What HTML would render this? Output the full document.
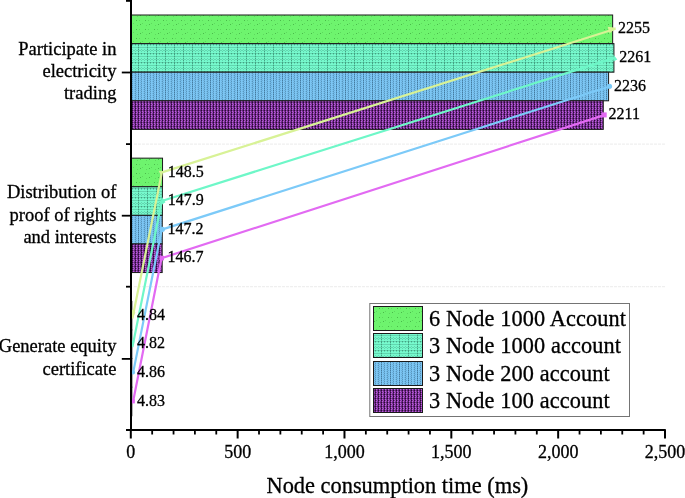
<!DOCTYPE html>
<html><head><meta charset="utf-8"><style>
html,body{margin:0;padding:0;background:#fff;}
svg{display:block;will-change:transform;}
text{font-family:"Liberation Serif",serif;fill:#000;stroke:#000;stroke-width:0.3px;}
</style></head><body>
<svg width="685" height="498" viewBox="0 0 685 498">
<defs>
<pattern id="pG" width="9" height="9" patternUnits="userSpaceOnUse">
<rect width="9" height="9" fill="#6ef46e"/>
<rect x="1" y="2" width="1" height="1" fill="#2e8a2e" opacity="0.55"/>
<rect x="5" y="6" width="1" height="1" fill="#2e8a2e" opacity="0.55"/>
<rect x="4" y="2" width="1" height="1" fill="#2e8a2e" opacity="0.25"/>
<rect x="7" y="5" width="1" height="1" fill="#2e8a2e" opacity="0.25"/>
<rect x="2" y="7" width="1" height="1" fill="#2e8a2e" opacity="0.25"/>
</pattern>
<pattern id="pT" width="9" height="9" patternUnits="userSpaceOnUse" x="0" y="0">
<rect width="9" height="9" fill="#76f9cd"/>
<path d="M3 0h1v1h-1zM3 2h1v1h-1zM3 4h1v1h-1zM3 6h1v1h-1zM0 8h1v1h-1zM3 8h1v1h-1zM6 8h1v1h-1z" fill="#1a5a45" opacity="0.55"/>
<path d="M3 1h1v1h-1zM3 3h1v1h-1zM3 5h1v1h-1zM3 7h1v1h-1zM1 8h2v1h-2zM4 8h2v1h-2zM7 8h2v1h-2z" fill="#1a5a45" opacity="0.22"/>
<path d="M0 0h1v1h-1zM0 2h1v1h-1zM0 4h1v1h-1zM0 6h1v1h-1zM6 0h1v1h-1zM6 2h1v1h-1zM6 4h1v1h-1zM6 6h1v1h-1zM1 5h2v1h-2zM4 5h2v1h-2zM7 5h2v1h-2zM1 2h2v1h-2zM4 2h2v1h-2zM7 2h2v1h-2z" fill="#1a5a45" opacity="0.22"/>
</pattern>
<pattern id="pB" width="9" height="2" patternUnits="userSpaceOnUse">
<rect width="9" height="2" fill="#7cc6f4"/>
<rect x="3" y="0" width="1" height="1" fill="#1e4a68" opacity="0.6"/>
<rect x="3" y="1" width="1" height="1" fill="#1e4a68" opacity="0.3"/>
<rect x="0" y="1" width="1" height="1" fill="#1e4a68" opacity="0.4"/>
<rect x="6" y="1" width="1" height="1" fill="#1e4a68" opacity="0.4"/>
<rect x="0" y="0" width="1" height="1" fill="#1e4a68" opacity="0.15"/>
<rect x="6" y="0" width="1" height="1" fill="#1e4a68" opacity="0.15"/>
<rect x="1" y="0" width="1" height="1" fill="#1e4a68" opacity="0.18"/>
<rect x="5" y="0" width="1" height="1" fill="#1e4a68" opacity="0.18"/>
<rect x="8" y="1" width="1" height="1" fill="#1e4a68" opacity="0.12"/>
</pattern>
<pattern id="pP" width="3" height="4" patternUnits="userSpaceOnUse">
<rect width="3" height="4" fill="#80369c"/>
<rect x="0" y="0" width="1" height="1" fill="#200428" opacity="0.9"/>
<rect x="0" y="1" width="1" height="1" fill="#200428" opacity="0.45"/>
<rect x="0" y="2" width="1" height="1" fill="#200428" opacity="0.9"/>
<rect x="0" y="3" width="1" height="1" fill="#200428" opacity="0.45"/>
<rect x="1" y="1" width="1" height="1" fill="#cc68ee" opacity="0.8"/>
<rect x="1" y="3" width="1" height="1" fill="#cc68ee" opacity="0.8"/>
<rect x="2" y="0" width="1" height="1" fill="#b858dc" opacity="0.5"/>
<rect x="2" y="2" width="1" height="1" fill="#200428" opacity="0.35"/>
</pattern>
</defs>

<line x1="134" y1="144.1" x2="665" y2="144.1" stroke="#efefef" stroke-width="1.2" stroke-dasharray="3,1"/>
<line x1="134" y1="286.7" x2="665" y2="286.7" stroke="#efefef" stroke-width="1.2" stroke-dasharray="3,1"/>
<rect x="130.80" y="15.00" width="481.85" height="28.60" fill="url(#pG)" stroke="#1a1a1a" stroke-width="1"/>
<rect x="130.80" y="43.60" width="483.13" height="28.60" fill="url(#pT)" stroke="#1a1a1a" stroke-width="1"/>
<rect x="130.80" y="72.20" width="477.79" height="28.60" fill="url(#pB)" stroke="#1a1a1a" stroke-width="1"/>
<rect x="130.80" y="100.80" width="472.45" height="28.60" fill="url(#pP)" stroke="#1a1a1a" stroke-width="1"/>
<rect x="130.80" y="158.15" width="31.73" height="28.60" fill="url(#pG)" stroke="#1a1a1a" stroke-width="1"/>
<rect x="130.80" y="186.75" width="31.60" height="28.60" fill="url(#pT)" stroke="#1a1a1a" stroke-width="1"/>
<rect x="130.80" y="215.35" width="31.45" height="28.60" fill="url(#pB)" stroke="#1a1a1a" stroke-width="1"/>
<rect x="130.80" y="243.95" width="31.35" height="28.60" fill="url(#pP)" stroke="#1a1a1a" stroke-width="1"/>
<rect x="130.80" y="301.35" width="1.03" height="28.60" fill="url(#pG)" stroke="#1a1a1a" stroke-width="1"/>
<rect x="130.80" y="329.95" width="1.03" height="28.60" fill="url(#pT)" stroke="#1a1a1a" stroke-width="1"/>
<rect x="130.80" y="358.55" width="1.04" height="28.60" fill="url(#pB)" stroke="#1a1a1a" stroke-width="1"/>
<rect x="130.80" y="387.15" width="1.03" height="28.60" fill="url(#pP)" stroke="#1a1a1a" stroke-width="1"/>
<polyline points="132.4,318.5 161.9,172.4 615.6,28.7" fill="none" stroke="#d8f296" stroke-width="2.2" stroke-linejoin="round"/>
<polygon points="616.2,27.7 609.7,33.5 607.6,26.8" fill="#d8f296"/>
<polygon points="158.6,170.8 163.5,170.9 161.0,175.4" fill="#d8f296"/>
<polygon points="131.2,308.7 135.4,312.2 132.4,319.1" fill="#d8f296"/>
<polyline points="132.4,347.1 161.8,201.0 614.9,57.9" fill="none" stroke="#6ef7c8" stroke-width="2.2" stroke-linejoin="round"/>
<polygon points="613.4,54.5 617.3,59.4 613.4,61.5" fill="#6ef7c8"/>
<polygon points="162.0,197.0 165.5,202.2 162.0,204.4" fill="#6ef7c8"/>
<polygon points="131.2,339.9 134.6,341.8 132.2,345.6" fill="#6ef7c8"/>
<polyline points="133.1,372.9 161.7,229.6 609.6,86.5" fill="none" stroke="#7ccaf8" stroke-width="2.2" stroke-linejoin="round"/>
<circle cx="609.5" cy="86.3" r="2.6" fill="#7ccaf8"/>
<circle cx="162.4" cy="229.3" r="2.6" fill="#7ccaf8"/>
<circle cx="133.1" cy="372.5" r="2.0" fill="#7ccaf8"/>
<polyline points="133.1,401.5 161.5,258.2 604.2,115.1" fill="none" stroke="#e26af2" stroke-width="2.2" stroke-linejoin="round"/>
<rect x="601.7" y="112.4" width="5" height="5" fill="#e26af2"/>
<rect x="159.4" y="255.8" width="4.6" height="4.6" fill="#e26af2"/>
<rect x="130.7" y="399.2" width="4.2" height="4.2" fill="#e26af2"/>
<text x="617.9" y="33.4" font-size="16">2255</text>
<text x="619.2" y="62.0" font-size="16">2261</text>
<text x="613.9" y="90.6" font-size="16">2236</text>
<text x="608.5" y="119.2" font-size="16">2211</text>
<text x="167.8" y="176.5" font-size="16">148.5</text>
<text x="167.7" y="205.1" font-size="16">147.9</text>
<text x="167.6" y="233.7" font-size="16">147.2</text>
<text x="167.4" y="262.4" font-size="16">146.7</text>
<text x="137.1" y="319.8" font-size="16">4.84</text>
<text x="137.1" y="348.4" font-size="16">4.82</text>
<text x="137.1" y="377.0" font-size="16">4.86</text>
<text x="137.1" y="405.6" font-size="16">4.83</text>
<line x1="131" y1="0" x2="131" y2="431" stroke="#000" stroke-width="2"/>
<line x1="126" y1="429.9" x2="665.8" y2="429.9" stroke="#000" stroke-width="2"/>
<line x1="126" y1="0.9" x2="131" y2="0.9" stroke="#000" stroke-width="1.8"/>
<line x1="126" y1="144.1" x2="131" y2="144.1" stroke="#000" stroke-width="1.8"/>
<line x1="126" y1="286.7" x2="131" y2="286.7" stroke="#000" stroke-width="1.8"/>
<line x1="121.8" y1="72.5" x2="131" y2="72.5" stroke="#000" stroke-width="1.8"/>
<line x1="121.8" y1="215.7" x2="131" y2="215.7" stroke="#000" stroke-width="1.8"/>
<line x1="121.8" y1="358.9" x2="131" y2="358.9" stroke="#000" stroke-width="1.8"/>
<line x1="130.80" y1="430" x2="130.80" y2="438.5" stroke="#000" stroke-width="2"/>
<line x1="152.17" y1="430" x2="152.17" y2="434.5" stroke="#000" stroke-width="1.8"/>
<line x1="173.54" y1="430" x2="173.54" y2="434.5" stroke="#000" stroke-width="1.8"/>
<line x1="194.90" y1="430" x2="194.90" y2="434.5" stroke="#000" stroke-width="1.8"/>
<line x1="216.27" y1="430" x2="216.27" y2="434.5" stroke="#000" stroke-width="1.8"/>
<line x1="237.64" y1="430" x2="237.64" y2="438.5" stroke="#000" stroke-width="2"/>
<line x1="259.01" y1="430" x2="259.01" y2="434.5" stroke="#000" stroke-width="1.8"/>
<line x1="280.38" y1="430" x2="280.38" y2="434.5" stroke="#000" stroke-width="1.8"/>
<line x1="301.74" y1="430" x2="301.74" y2="434.5" stroke="#000" stroke-width="1.8"/>
<line x1="323.11" y1="430" x2="323.11" y2="434.5" stroke="#000" stroke-width="1.8"/>
<line x1="344.48" y1="430" x2="344.48" y2="438.5" stroke="#000" stroke-width="2"/>
<line x1="365.85" y1="430" x2="365.85" y2="434.5" stroke="#000" stroke-width="1.8"/>
<line x1="387.22" y1="430" x2="387.22" y2="434.5" stroke="#000" stroke-width="1.8"/>
<line x1="408.58" y1="430" x2="408.58" y2="434.5" stroke="#000" stroke-width="1.8"/>
<line x1="429.95" y1="430" x2="429.95" y2="434.5" stroke="#000" stroke-width="1.8"/>
<line x1="451.32" y1="430" x2="451.32" y2="438.5" stroke="#000" stroke-width="2"/>
<line x1="472.69" y1="430" x2="472.69" y2="434.5" stroke="#000" stroke-width="1.8"/>
<line x1="494.06" y1="430" x2="494.06" y2="434.5" stroke="#000" stroke-width="1.8"/>
<line x1="515.42" y1="430" x2="515.42" y2="434.5" stroke="#000" stroke-width="1.8"/>
<line x1="536.79" y1="430" x2="536.79" y2="434.5" stroke="#000" stroke-width="1.8"/>
<line x1="558.16" y1="430" x2="558.16" y2="438.5" stroke="#000" stroke-width="2"/>
<line x1="579.53" y1="430" x2="579.53" y2="434.5" stroke="#000" stroke-width="1.8"/>
<line x1="600.90" y1="430" x2="600.90" y2="434.5" stroke="#000" stroke-width="1.8"/>
<line x1="622.26" y1="430" x2="622.26" y2="434.5" stroke="#000" stroke-width="1.8"/>
<line x1="643.63" y1="430" x2="643.63" y2="434.5" stroke="#000" stroke-width="1.8"/>
<line x1="665.00" y1="430" x2="665.00" y2="438.5" stroke="#000" stroke-width="2"/>
<text x="130.80" y="457.9" font-size="18" text-anchor="middle">0</text>
<text x="237.64" y="457.9" font-size="18" text-anchor="middle">500</text>
<text x="344.48" y="457.9" font-size="18" text-anchor="middle">1,000</text>
<text x="451.32" y="457.9" font-size="18" text-anchor="middle">1,500</text>
<text x="558.16" y="457.9" font-size="18" text-anchor="middle">2,000</text>
<text x="665.00" y="457.9" font-size="18" text-anchor="middle">2,500</text>
<text x="397.4" y="493.0" font-size="22.4" text-anchor="middle">Node consumption time (ms)</text>
<text x="116.4" y="54.6" font-size="18.5" text-anchor="end">Participate in</text>
<text x="116.4" y="76.9" font-size="18.5" text-anchor="end">electricity</text>
<text x="116.4" y="99.3" font-size="18.5" text-anchor="end">trading</text>
<text x="116.4" y="198.4" font-size="18.5" text-anchor="end">Distribution of</text>
<text x="116.4" y="220.7" font-size="18.5" text-anchor="end">proof of rights</text>
<text x="116.4" y="243.2" font-size="18.5" text-anchor="end">and interests</text>
<text x="116.4" y="352.4" font-size="18.5" text-anchor="end">Generate equity</text>
<text x="116.4" y="374.8" font-size="18.5" text-anchor="end">certificate</text>
<rect x="369.8" y="303.5" width="259.7" height="113" fill="#fff" stroke="#747474" stroke-width="1"/>
<rect x="373.5" y="306.5" width="49" height="24" fill="url(#pG)" stroke="#1a1a1a" stroke-width="1"/>
<text x="429" y="326.3" font-size="22.3" letter-spacing="0.1">6 Node 1000 Account</text>
<rect x="373.5" y="333.5" width="49" height="24" fill="url(#pT)" stroke="#1a1a1a" stroke-width="1"/>
<text x="429" y="353.3" font-size="22.3" letter-spacing="0.1">3 Node 1000 account</text>
<rect x="373.5" y="361.5" width="49" height="24" fill="url(#pB)" stroke="#1a1a1a" stroke-width="1"/>
<text x="429" y="381.3" font-size="22.3" letter-spacing="0.1">3 Node 200 account</text>
<rect x="373.5" y="388.5" width="49" height="24" fill="url(#pP)" stroke="#1a1a1a" stroke-width="1"/>
<text x="429" y="408.3" font-size="22.3" letter-spacing="0.1">3 Node 100 account</text>
</svg></body></html>
